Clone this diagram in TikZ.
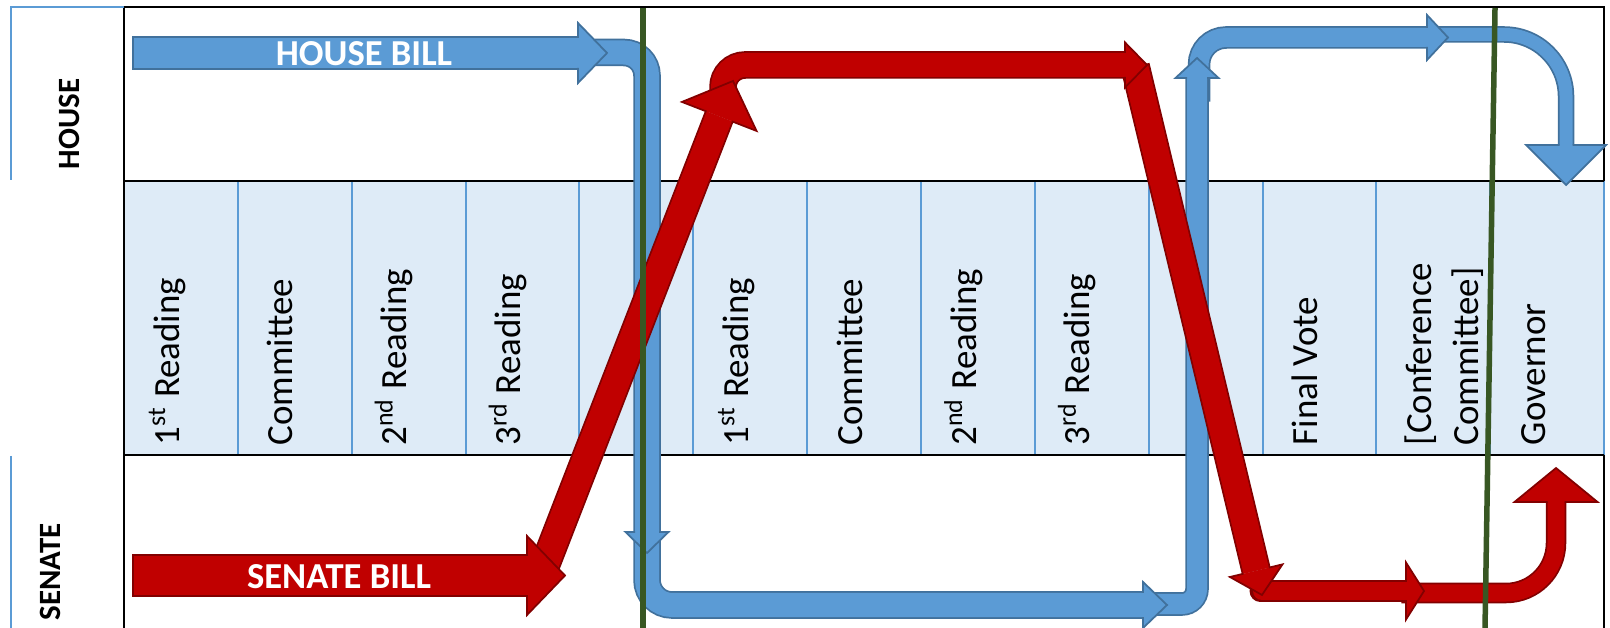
\documentclass[tikz,border=0pt]{standalone}
\usepackage{fontspec}
\setmainfont{Carlito}
\usetikzlibrary{calc}
\definecolor{billblue}{RGB}{91,155,213}
\definecolor{billblueedge}{RGB}{65,113,156}
\definecolor{billred}{RGB}{192,0,0}
\definecolor{billrededge}{RGB}{130,0,0}
\definecolor{bandblue}{RGB}{222,235,247}
\definecolor{passgreen}{RGB}{56,87,35}
\newcommand{\stagefont}{\fontsize{10.5}{13.3}\selectfont}
\newcommand{\billfont}{\fontsize{10.4}{12}\selectfont\bfseries}
\newcommand{\chamberfont}{\fontsize{8.8}{10}\selectfont\bfseries}
\newcommand{\drawstage}{\node[rotate=90, anchor=base west, inner sep=0, font=\stagefont]}
\newcommand{\drawchamber}{\node[rotate=90, inner sep=0, font=\chamberfont]}
\newcommand{\drawbilltext}{\node[inner sep=0, font=\billfont, text=white]}
\newcommand{\drawframe}{\draw[line width=0.027cm, black]}
\newcommand{\drawcolline}{\draw[line width=0.02cm, color=billblue]}
\newcommand{\drawgreen}{\draw[line width=0.055cm, color=passgreen]}
% thick arrow body: fill, edge, width, corners, path
\newcommand{\billpipe}[5]{%
  \draw[#2, #4, line width=#3+0.035cm, shorten <=-0.0175cm] #5;
  \draw[#1, #4, line width=#3] #5;}
% arrow head: tip, neck, half width, shaft half width, fill, edge
\newcommand{\billhead}[6]{%
  \filldraw[fill=#5, draw=#6, line width=0.0175cm]
    ($(#2)!#4!90:(#1)$) -- ($(#2)!#3!90:(#1)$) -- (#1)
    -- ($(#2)!#3!-90:(#1)$) -- ($(#2)!#4!-90:(#1)$);}

\begin{document}
\begin{tikzpicture}[x=0.01cm, y=-0.01cm]
\useasboundingbox (0,0) rectangle (1610,628);

%stage band
\fill[bandblue] (124,181) rectangle (1604,455);
\drawcolline (237.85,181) -- (237.85,455);
\drawcolline (351.7,181) -- (351.7,455);
\drawcolline (465.55,181) -- (465.55,455);
\drawcolline (579.4,181) -- (579.4,455);
\drawcolline (693.25,181) -- (693.25,455);
\drawcolline (807.1,181) -- (807.1,455);
\drawcolline (920.95,181) -- (920.95,455);
\drawcolline (1034.8,181) -- (1034.8,455);
\drawcolline (1148.65,181) -- (1148.65,455);
\drawcolline (1262.5,181) -- (1262.5,455);
\drawcolline (1376.35,181) -- (1376.35,455);
\drawcolline (1490.2,181) -- (1490.2,455);
\drawcolline (1604.05,181) -- (1604.05,455);

%frame
\drawframe (124,628) -- (124,7) -- (1604,7) -- (1604,181);
\drawframe (124,181) -- (1604,181);
\drawframe (124,455) -- (1604,455);
\drawframe (1604,455) -- (1604,628);
\draw[line width=0.02cm, billblue] (11,180) -- (11,7) -- (124,7);
\draw[line width=0.02cm, billblue] (11,456) -- (11,628);

\drawchamber (house) at (69,124) {HOUSE};
\drawchamber (senate) at (50,572) {SENATE};

%stages
\drawstage (hRead1) at (179,446) {1\textsuperscript{st} Reading};
\drawstage (hComm) at (292.9,446) {Committee};
\drawstage (hRead2) at (406.7,446) {2\textsuperscript{nd} Reading};
\drawstage (hRead3) at (520.6,446) {3\textsuperscript{rd} Reading};
\drawstage (sRead1) at (748.3,446) {1\textsuperscript{st} Reading};
\drawstage (sComm) at (862.1,446) {Committee};
\drawstage (sRead2) at (976,446) {2\textsuperscript{nd} Reading};
\drawstage (sRead3) at (1089.8,446) {3\textsuperscript{rd} Reading};
\drawstage (final) at (1317.5,446) {Final Vote};
\drawstage (conf) at (1431.4,446) {\begin{tabular}[t]{@{}l@{}}{[}Conference\\Committee]\end{tabular}};
\drawstage (gov) at (1545.2,446) {Governor};

%house bill route
\coordinate (hStart) at (134,53);
\coordinate (hNeck) at (578,53);
\coordinate (hTip) at (607,53);
\coordinate (downStart) at (588,52.5);
\coordinate (downTurn) at (647,52.5);
\coordinate (downNeck) at (647,532);
\coordinate (downTip) at (647,553);
\coordinate (lowStart) at (647,537);
\coordinate (lowTurn) at (647,605);
\coordinate (lowNeck) at (1143,605);
\coordinate (lowTip) at (1167,605);
\coordinate (backStart) at (1150,604);
\coordinate (backTurn) at (1197,604);
\coordinate (backNeck) at (1197,78);
\coordinate (backTip) at (1197,58);
\coordinate (topStart) at (1199,100);
\coordinate (topTurn) at (1199,37.5);
\coordinate (topNeck) at (1427,37.5);
\coordinate (topTip) at (1448,37.5);
\coordinate (govStart) at (1432,34.5);
\coordinate (govTurn) at (1566,34.5);
\coordinate (govNeck) at (1566,145);
\coordinate (govTip) at (1566,185);

\billpipe{billblue}{billblueedge}{0.13cm}{rounded corners=0.62cm}{(govStart) -- (govTurn) -- (govNeck)}
\billhead{govTip}{govNeck}{0.40cm}{0.065cm}{billblue}{billblueedge}
\billpipe{billblue}{billblueedge}{0.19cm}{rounded corners=0.27cm}{(topStart) -- (topTurn) -- (topNeck)}
\billhead{topTip}{topNeck}{0.225cm}{0.095cm}{billblue}{billblueedge}
\billpipe{billblue}{billblueedge}{0.20cm}{rounded corners=0.15cm}{(backStart) -- (backTurn) -- (backNeck)}
\billhead{backTip}{backNeck}{0.215cm}{0.10cm}{billblue}{billblueedge}
\billpipe{billblue}{billblueedge}{0.24cm}{rounded corners=0.25cm}{(lowStart) -- (lowTurn) -- (lowNeck)}
\billhead{lowTip}{lowNeck}{0.23cm}{0.12cm}{billblue}{billblueedge}
\billpipe{billblue}{billblueedge}{0.24cm}{rounded corners=0.23cm}{(downStart) -- (downTurn) -- (downNeck)}
\billhead{downTip}{downNeck}{0.215cm}{0.12cm}{billblue}{billblueedge}
\billpipe{billblue}{billblueedge}{0.30cm}{sharp corners}{(hStart) -- (hNeck)}
\billhead{hTip}{hNeck}{0.30cm}{0.15cm}{billblue}{billblueedge}
\drawbilltext (houseBill) at (364,53.5) {HOUSE BILL};

%senate bill route
\coordinate (sStart) at (134,575.5);
\coordinate (sNeck) at (527,575.5);
\coordinate (sTip) at (565,575.5);
\coordinate (upStart) at (542.6,571);
\coordinate (upTip) at (733,81);
\coordinate (upNeck) at ($(upTip)!0.38cm!(upStart)$);
\coordinate (acrossStart) at (723,100);
\coordinate (acrossTurn) at (723,65);
\coordinate (acrossNeck) at (1125,65);
\coordinate (acrossTip) at (1147,65);
\coordinate (dropStart) at (1135.5,68);
\coordinate (dropTip) at (1262,595);
\coordinate (dropNeck) at ($(dropTip)!0.25cm!(dropStart)$);
\coordinate (voteStart) at (1262,591);
\coordinate (voteNeck) at (1406,591);
\coordinate (voteTip) at (1424,591);
\coordinate (signStart) at (1403,593);
\coordinate (signTurn) at (1556,593);
\coordinate (signNeck) at (1556,502);
\coordinate (signTip) at (1556,468);

\billpipe{billred}{billrededge}{0.17cm}{rounded corners=0.50cm}{(signStart) -- (signTurn) -- (signNeck)}
\billhead{signTip}{signNeck}{0.415cm}{0.085cm}{billred}{billrededge}
\billpipe{billred}{billrededge}{0.18cm}{line cap=round}{(voteStart) -- (voteNeck)}
\billhead{voteTip}{voteNeck}{0.285cm}{0.09cm}{billred}{billrededge}
\billpipe{billred}{billrededge}{0.26cm}{sharp corners}{(dropStart) -- (dropNeck)}
\billhead{dropTip}{dropNeck}{0.27cm}{0.13cm}{billred}{billrededge}
\billpipe{billred}{billrededge}{0.24cm}{rounded corners=0.22cm}{(acrossStart) -- (acrossTurn) -- (acrossNeck)}
\billhead{acrossTip}{acrossNeck}{0.225cm}{0.12cm}{billred}{billrededge}
\billpipe{billred}{billrededge}{0.27cm}{sharp corners}{(upStart) -- (upNeck)}
\billhead{upTip}{upNeck}{0.40cm}{0.135cm}{billred}{billrededge}
\billpipe{billred}{billrededge}{0.39cm}{sharp corners}{(sStart) -- (sNeck)}
\billhead{sTip}{sNeck}{0.395cm}{0.195cm}{billred}{billrededge}
\drawbilltext (senateBill) at (339,576.5) {SENATE BILL};

%passage lines
\drawgreen (643,8) -- (643,628);
\drawgreen (1495,8) -- (1485,628);
\end{tikzpicture}
\end{document}
